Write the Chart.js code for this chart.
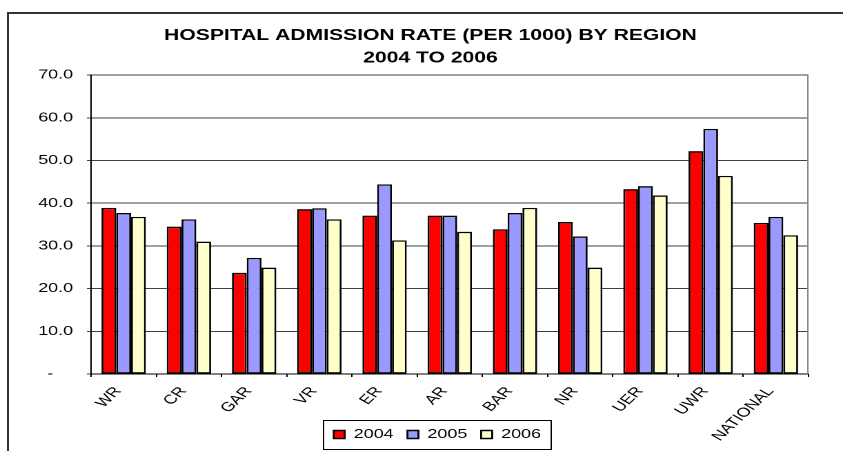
<!DOCTYPE html>
<html>
<head>
<meta charset="utf-8">
<script src="https://cdn.jsdelivr.net/npm/chart.js@4/dist/chart.umd.min.js"></script>
<style>
  html, body { margin: 0; padding: 0; background: #fff; overflow: hidden; width: 843px; height: 451px; }
  #wrap { position: absolute; left: 0; top: 0; width: 611px; height: 451px; transform: scaleX(1.3797); transform-origin: 0 0; }
  #frame { position: absolute; left: 7px; top: 12px; width: 900px; height: 600px; border: 2px solid #333; pointer-events: none; }
</style>
</head>
<body>
<div id="wrap"><canvas id="c"></canvas></div>
<div id="frame"></div>
<script>
const categories = ['WR', 'CR', 'GAR', 'VR', 'ER', 'AR', 'BAR', 'NR', 'UER', 'UWR', 'NATIONAL'];
const seriesNames = ['2004', '2005', '2006'];
const values2004 = [38.9, 34.5, 23.7, 38.6, 37.1, 37.1, 33.9, 35.6, 43.3, 52.2, 35.4];
const values2005 = [37.7, 36.2, 27.2, 38.8, 44.4, 37.1, 37.7, 32.2, 44.0, 57.4, 36.8];
const values2006 = [36.8, 31.0, 24.9, 36.2, 31.3, 33.3, 38.9, 24.9, 41.8, 46.4, 32.5];
const yTicks = [0, 10, 20, 30, 40, 50, 60, 70];
const titleLines = ['HOSPITAL ADMISSION RATE (PER 1000) BY REGION', '2004 TO 2006'];

const colors = ['#FF0000', '#9999FF', '#FFFFCC'];
const FONT = "'Liberation Sans', Arial, sans-serif";

const frameBits = {
  id: 'frameBits',
  afterLayout(chart) {
    const t = chart.titleBlock;
    if (t) { t.left += 14; t.right += 14; }
    const lg = chart.legend;
    if (lg) { lg.left += 19; lg.right += 19; }
    const x = chart.scales.x;
    if (x) { x.bottom = chart.height; }
  },
  beforeDatasetsDraw(chart) {
    const a = chart.chartArea, ctx = chart.ctx;
    ctx.save();
    ctx.strokeStyle = '#888';
    ctx.lineWidth = 1;
    ctx.beginPath();
    ctx.moveTo(a.right - 0.5, a.top);
    ctx.lineTo(a.right - 0.5, a.bottom);
    ctx.stroke();
    ctx.restore();
  },
  afterDraw(chart) {
    const lg = chart.legend;
    if (!lg || !lg.legendHitBoxes || !lg.legendHitBoxes.length) return;
    const hb = lg.legendHitBoxes;
    let l = Infinity, r = -Infinity;
    hb.forEach(b => { l = Math.min(l, b.left); r = Math.max(r, b.left + b.width); });
    const ctx = chart.ctx;
    ctx.save();
    ctx.strokeStyle = '#000';
    ctx.lineWidth = 1;
    ctx.strokeRect(Math.round(l - 8) + 0.5, Math.round(lg.top + 2) + 0.5, Math.round(r - l + 15), Math.round(lg.height - 4));
    ctx.restore();
  }
};

new Chart(document.getElementById('c'), {
  type: 'bar',
  data: {
    labels: categories,
    datasets: [values2004, values2005, values2006].map((v, i) => ({
      label: seriesNames[i],
      data: v,
      backgroundColor: colors[i],
      borderColor: '#000',
      borderWidth: 1.4,
      borderSkipped: false,
      categoryPercentage: 0.68,
      barPercentage: 1.0
    }))
  },
  options: {
    responsive: true,
    maintainAspectRatio: false,
    animation: false,
    devicePixelRatio: 2,
    layout: { padding: { left: 10, right: 25, top: 0, bottom: 0 } },
    plugins: {
      title: {
        display: true,
        text: titleLines,
        color: '#000',
        font: { family: FONT, size: 15.3, weight: 'bold', lineHeight: 1.44 },
        padding: { top: 25, bottom: 6 }
      },
      legend: {
        display: true,
        position: 'bottom',
        labels: {
          color: '#000',
          font: { family: FONT, size: 13 },
          boxWidth: 8,
          boxHeight: 8,
          padding: 10
        }
      },
      tooltip: { enabled: false }
    },
    scales: {
      x: {
        grid: { drawOnChartArea: false, drawTicks: true, tickLength: 3, color: '#000' },
        border: { color: '#000', width: 1 },
        ticks: {
          color: '#000',
          font: { family: FONT, size: 13 },
          minRotation: 52,
          maxRotation: 52,
          padding: 7,
          labelOffset: -4,
          autoSkip: false
        },
        afterFit(scale) { scale.height = 44; }
      },
      y: {
        min: 0,
        max: 70,
        afterBuildTicks(scale) { scale.ticks = yTicks.map(v => ({ value: v })); },
        grid: { color: '#404040', tickLength: 3, drawTicks: true },
        border: { color: '#000', width: 1 },
        ticks: {
          color: '#000',
          font: { family: FONT, size: 13 },
          padding: 10,
          callback: (v) => v === 0 ? '-    ' : Number(v).toFixed(1)
        },
        afterFit(scale) { scale.width = 56; }
      }
    }
  },
  plugins: [frameBits]
});
</script>
</body>
</html>
